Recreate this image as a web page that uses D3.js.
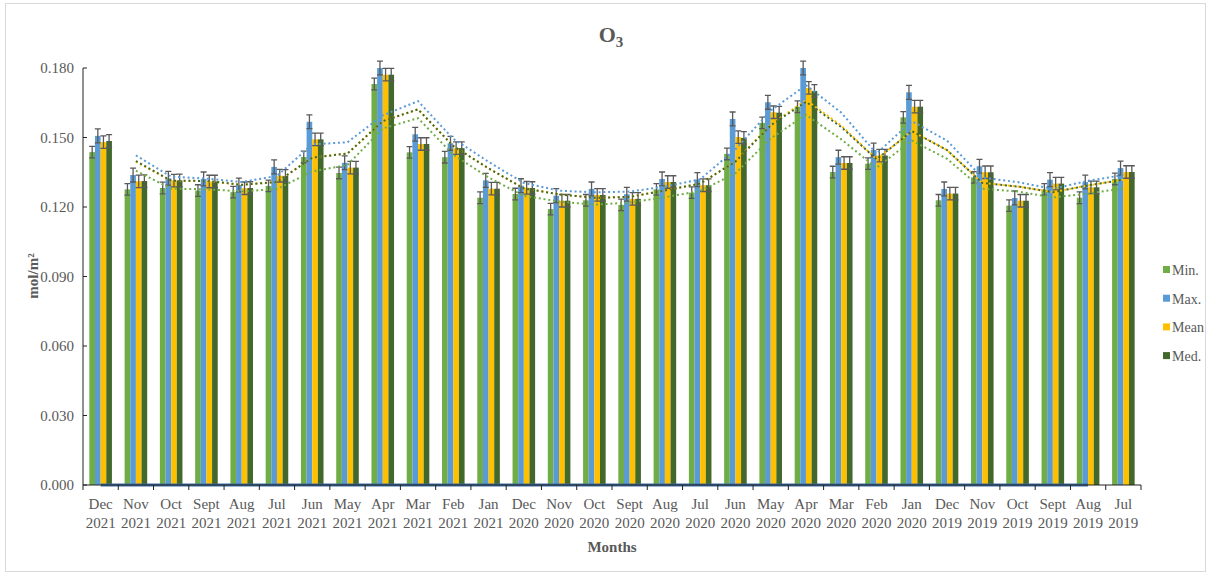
<!DOCTYPE html>
<html>
<head>
<meta charset="utf-8">
<script src="https://cdn.jsdelivr.net/npm/d3@7"></script>
<style>
  body { margin: 0; background: #fff; }
  text { font-family: "Liberation Serif", "Times New Roman", serif; fill: #595959; }
</style>
</head>
<body>
<div id="chart"></div>
<script>
var months = ["Dec", "Nov", "Oct", "Sept", "Aug", "Jul", "Jun", "May", "Apr", "Mar", "Feb", "Jan",
              "Dec", "Nov", "Oct", "Sept", "Aug", "Jul", "Jun", "May", "Apr", "Mar", "Feb", "Jan",
              "Dec", "Nov", "Oct", "Sept", "Aug", "Jul"];
var years = ["2021", "2021", "2021", "2021", "2021", "2021", "2021", "2021", "2021", "2021", "2021", "2021",
             "2020", "2020", "2020", "2020", "2020", "2020", "2020", "2020", "2020", "2020", "2020", "2020",
             "2019", "2019", "2019", "2019", "2019", "2019"];

var minVals  = [0.1437, 0.1276, 0.1282, 0.1271, 0.1264, 0.1291, 0.1416, 0.1347, 0.1731, 0.1436, 0.1415, 0.1240,
                0.1256, 0.1191, 0.1229, 0.1209, 0.1276, 0.1262, 0.1429, 0.1563, 0.1633, 0.1351, 0.1387, 0.1587,
                0.1229, 0.1328, 0.1206, 0.1276, 0.1240, 0.1321];
var maxVals  = [0.1507, 0.1338, 0.1324, 0.1321, 0.1295, 0.1373, 0.1568, 0.1391, 0.1800, 0.1514, 0.1475, 0.1315,
                0.1292, 0.1249, 0.1278, 0.1255, 0.1321, 0.1318, 0.1580, 0.1652, 0.1800, 0.1415, 0.1446, 0.1695,
                0.1278, 0.1376, 0.1239, 0.1318, 0.1308, 0.1368];
var meanVals = [0.1480, 0.1311, 0.1314, 0.1310, 0.1281, 0.1335, 0.1492, 0.1370, 0.1771, 0.1472, 0.1454, 0.1279,
                0.1283, 0.1227, 0.1252, 0.1235, 0.1308, 0.1294, 0.1502, 0.1609, 0.1714, 0.1390, 0.1422, 0.1633,
                0.1258, 0.1350, 0.1227, 0.1301, 0.1285, 0.1351];
var medVals  = [0.1485, 0.1312, 0.1315, 0.1310, 0.1282, 0.1334, 0.1492, 0.1370, 0.1771, 0.1472, 0.1454, 0.1279,
                0.1282, 0.1227, 0.1252, 0.1235, 0.1308, 0.1294, 0.1498, 0.1607, 0.1701, 0.1390, 0.1422, 0.1633,
                0.1258, 0.1350, 0.1227, 0.1301, 0.1285, 0.1351];
// zero-valued helper series drawn as a flat line on the axis (Dec 2021 .. Aug 2019)
var baseVals = [0, 0, 0, 0, 0, 0, 0, 0, 0, 0, 0, 0, 0, 0, 0, 0, 0, 0, 0, 0, 0, 0, 0, 0, 0, 0, 0, 0, 0];

var seriesNames = ["Min.", "Max.", "Mean", "Med."];
var seriesErr = [0.0025, 0.003, 0.0027, 0.0027];
var yTicks = [0, 0.03, 0.06, 0.09, 0.12, 0.15, 0.18];

var colors = ["#70ad47", "#5b9bd5", "#ffc000", "#43682b"];
var seriesVals = [minVals, maxVals, meanVals, medVals];

var width = 1211,
    height = 576,
    plotLeft = 83, plotRight = 1141, plotTop = 68, plotBottom = 485;

var svg = d3.select("#chart").append("svg")
    .attr("width", width)
    .attr("height", height);

svg.append("rect")
    .attr("x", 5.5).attr("y", 3.5)
    .attr("width", 1200).attr("height", 568)
    .attr("fill", "#fff")
    .attr("stroke", "#d9d9d9");

var idx = d3.range(months.length);

var x = d3.scaleBand()
    .domain(idx)
    .range([plotLeft, plotRight])
    .paddingInner(0.36)
    .paddingOuter(0.18);

var xs = d3.scaleBand()
    .domain(d3.range(seriesNames.length))
    .range([0, x.bandwidth()]);

var y = d3.scaleLinear()
    .domain([0, 0.18])
    .range([plotBottom, plotTop]);

// bars
var groups = svg.selectAll("g.grp")
    .data(seriesVals)
    .enter().append("g")
    .attr("class", "grp")
    .attr("fill", function(d, i) { return colors[i]; });

groups.each(function(vals, s) {
  d3.select(this).selectAll("rect")
      .data(vals)
      .enter().append("rect")
      .attr("x", function(d, i) { return x(i) + xs(s); })
      .attr("y", function(d) { return y(d); })
      .attr("width", xs.bandwidth())
      .attr("height", function(d) { return y(0) - y(d); });
});

// error bars
groups.each(function(vals, s) {
  var e = seriesErr[s];
  var g = d3.select(this).append("g")
      .attr("stroke", "#595959")
      .attr("stroke-width", 1.3)
      .attr("fill", "none");
  vals.forEach(function(d, i) {
    var cx = x(i) + xs(s) + xs.bandwidth() / 2;
    g.append("path")
      .attr("d", "M" + cx + "," + y(d - e) + "V" + y(d + e)
        + "M" + (cx - 3) + "," + y(d + e) + "H" + (cx + 3)
        + "M" + (cx - 3) + "," + y(d - e) + "H" + (cx + 3));
  });
});

// 2-period moving average trendlines
var ma = d3.line()
    .x(function(d) { return x(d.i) + x.bandwidth() / 2; })
    .y(function(d) { return y(d.v); });

seriesVals.forEach(function(vals, s) {
  var pts = d3.range(1, vals.length).map(function(i) {
    return { i: i, v: (vals[i - 1] + vals[i]) / 2 };
  });
  svg.append("path")
      .attr("d", ma(pts))
      .attr("fill", "none")
      .attr("stroke", colors[s])
      .attr("stroke-width", 2)
      .attr("stroke-dasharray", "2,2.8");
});

// y axis
var yAxis = svg.append("g");
yAxis.append("line")
    .attr("x1", plotLeft).attr("x2", plotLeft)
    .attr("y1", plotTop).attr("y2", plotBottom)
    .attr("stroke", "#222");
yAxis.selectAll("line.t")
    .data(yTicks)
    .enter().append("line")
    .attr("class", "t")
    .attr("x1", plotLeft).attr("x2", plotLeft + 4)
    .attr("y1", function(d) { return y(d); })
    .attr("y2", function(d) { return y(d); })
    .attr("stroke", "#222");
yAxis.selectAll("text")
    .data(yTicks)
    .enter().append("text")
    .attr("x", 74)
    .attr("y", function(d) { return y(d); })
    .attr("dy", "0.36em")
    .attr("text-anchor", "end")
    .style("font-size", "15px")
    .text(function(d) { return d3.format(".3f")(d); });

// flat helper line at zero
svg.append("path")
    .attr("d", d3.line()
      .x(function(d, i) { return x(i) + x.bandwidth() / 2; })
      .y(function(d) { return y(d); })(baseVals))
    .attr("fill", "none")
    .attr("stroke", "#3a6ea5")
    .attr("stroke-width", 3);

// x axis
var xAxis = svg.append("g");
xAxis.append("line")
    .attr("x1", plotLeft).attr("x2", plotRight)
    .attr("y1", plotBottom).attr("y2", plotBottom)
    .attr("stroke", "#222");
xAxis.selectAll("line.t")
    .data(d3.range(months.length + 1))
    .enter().append("line")
    .attr("class", "t")
    .attr("x1", function(d) { return plotLeft + d * x.step(); })
    .attr("x2", function(d) { return plotLeft + d * x.step(); })
    .attr("y1", plotBottom).attr("y2", plotBottom + 5)
    .attr("stroke", "#222");
var lab = xAxis.selectAll("text")
    .data(idx)
    .enter().append("text")
    .attr("text-anchor", "middle")
    .style("font-size", "15px");
lab.append("tspan")
    .attr("x", function(i) { return x(i) + x.bandwidth() / 2; })
    .attr("y", 509)
    .text(function(i) { return months[i]; });
lab.append("tspan")
    .attr("x", function(i) { return x(i) + x.bandwidth() / 2; })
    .attr("y", 528)
    .text(function(i) { return years[i]; });

// axis titles
svg.append("text")
    .attr("x", 612).attr("y", 552)
    .attr("text-anchor", "middle")
    .style("font-size", "15px")
    .style("font-weight", "bold")
    .text("Months");

svg.append("text")
    .attr("transform", "translate(38,276) rotate(-90)")
    .attr("text-anchor", "middle")
    .style("font-size", "15px")
    .style("font-weight", "bold")
    .text("mol/m²");

var title = svg.append("text")
    .attr("x", 611).attr("y", 42)
    .attr("text-anchor", "middle")
    .style("font-size", "22px")
    .style("font-weight", "bold");
title.append("tspan").text("O");
title.append("tspan").attr("dy", 5).style("font-size", "15px").text("3");

// legend
var legend = svg.selectAll("g.leg")
    .data(seriesNames)
    .enter().append("g")
    .attr("class", "leg")
    .attr("transform", function(d, i) { return "translate(1163," + (270 + i * 28.7) + ")"; });
legend.append("rect")
    .attr("x", 0).attr("y", -4)
    .attr("width", 7).attr("height", 7)
    .attr("fill", function(d, i) { return colors[i]; });
legend.append("text")
    .attr("x", 9)
    .attr("dy", "0.35em")
    .style("font-size", "14px")
    .text(function(d) { return d; });
</script>
</body>
</html>
